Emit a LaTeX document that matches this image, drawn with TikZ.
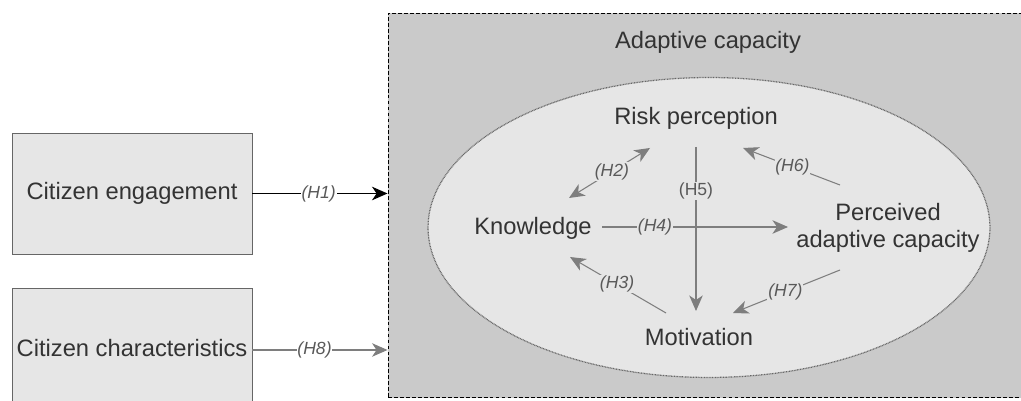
\documentclass[tikz,border=0pt]{standalone}
\usepackage{fontspec}
\setmainfont{Liberation Sans}
\usepackage{xcolor}
\usetikzlibrary{
    arrows.meta,
    positioning,
    calc,
    shapes.geometric
}

\definecolor{boxfill}{HTML}{E6E6E6}
\definecolor{outerfill}{HTML}{CACACA}
\definecolor{inkgray}{HTML}{333333}
\definecolor{linegray}{HTML}{7E7E7E}

\begin{document}
\begin{tikzpicture}[
    x=0.02cm, y=-0.02cm,
    font=\fontsize{13.5}{15.5}\selectfont,
    citizen/.style={
        rectangle,
        draw=black!60,
        fill=boxfill,
        text=inkgray,
        minimum width=4.8cm,
        minimum height=2.42cm,
        inner sep=0pt
    },
    outerbox/.style={
        rectangle,
        draw=black,
        line width=0.6pt,
        dash pattern=on 2.2pt off 1.2pt,
        fill=outerfill,
        minimum width=12.84cm,
        minimum height=7.7cm
    },
    innerell/.style={
        ellipse,
        draw=black!60,
        line width=0.7pt,
        dash pattern=on 0.5pt off 0.4pt,
        fill=boxfill,
        minimum width=11.24cm,
        minimum height=6cm
    },
    factor/.style={
        text=inkgray,
        align=center,
        inner sep=1pt
    },
    tip/.tip={Stealth[length=3.1mm,width=2.7mm,inset=0.9mm]},
    arrow/.style={
        -tip,
        line width=0.6pt,
        draw=linegray
    },
    hyp/.style={
        font=\fontsize{10}{12}\selectfont\itshape,
        text=black!65,
        fill=boxfill,
        inner sep=0.5pt
    }
]
\useasboundingbox (0,0) rectangle (1021,401);
\clip (0,0) rectangle (1021,401);

% =========================================================
% Frames
% =========================================================
\node[outerbox] (adapt) at (709,205.5) {};
\node[innerell] (ell) at (709,227.5) {};
\node[factor] (adapttitle) at (708,42) {Adaptive capacity};

\node[citizen] (engage) at (132,193.5) {Citizen engagement};
\node[citizen] (charact) at (132,348.5) {Citizen characteristics};

% =========================================================
% Components of adaptive capacity
% =========================================================
\node[factor] (risk) at (696,118) {Risk perception};
\node[factor] (know) at (533,228) {Knowledge};
\node[factor] (perc) at (888,228) {Perceived\\adaptive capacity};
\node[factor] (motiv) at (699,337) {Motivation};

% =========================================================
% External relations
% =========================================================
\draw[arrow, draw=black, line width=0.9pt] (engage.east) -- node[pos=0.49, hyp, fill=white] {(H1)} (engage.east -| adapt.west);
\draw[arrow] ($(charact.east)+(0,1.5)$) -- node[pos=0.46, hyp, fill=white] {(H8)} ($(charact.east -| adapt.west)+(0,1.5)$);

% =========================================================
% Internal relations
% =========================================================
\draw[arrow] ($(know)+(69,-1)$) -- node[pos=0.285, hyp] {(H4)} ($(perc)+(-100,-1)$);
\draw[arrow] ($(risk)+(0,29)$) -- node[pos=0.27, hyp, font=\fontsize{10}{12}\selectfont] {(H5)} ($(motiv)+(-3,-26)$);
\draw[arrow, tip-tip] ($(know)+(36,-30)$) -- node[pos=0.53, hyp] {(H2)} ($(risk)+(-46,30)$);
\draw[arrow] ($(perc)+(-48,-43)$) -- node[pos=0.49, hyp] {(H6)} ($(risk)+(47,30)$);
\draw[arrow] ($(motiv)+(-33,-24)$) -- node[pos=0.51, hyp] {(H3)} ($(know)+(37,29)$);
\draw[arrow] ($(perc)+(-48,42)$) -- node[pos=0.51, hyp] {(H7)} ($(motiv)+(34,-24)$);

\end{tikzpicture}
\end{document}
